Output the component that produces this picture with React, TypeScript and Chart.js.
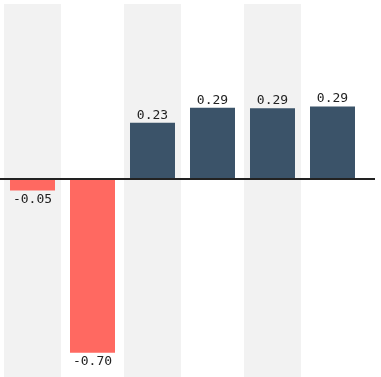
import React, { useEffect, useRef } from "react";
import { Chart, registerables } from "chart.js";

Chart.register(...registerables);

const categories = ["A", "B", "C", "D", "E", "F"];
const values = [-0.046, -0.7, 0.227, 0.288, 0.286, 0.293];
const valueLabels = ["-0.05", "-0.70", "0.23", "0.29", "0.29", "0.29"];

const POS = "#3b5369";
const NEG = "#ff6961";

export default function App() {
  const ref = useRef<HTMLCanvasElement | null>(null);
  useEffect(() => {
    document.body.style.margin = "0";
    const bandsPlugin = {
      id: "bands",
      beforeDatasetsDraw(chart: any) {
        const { ctx, chartArea, scales } = chart;
        const x = scales.x;
        ctx.save();
        ctx.fillStyle = "#f2f2f2";
        categories.forEach((_, i) => {
          if (i % 2 === 0) {
            const cx = x.getPixelForValue(i);
            const w = 57;
            ctx.fillRect(cx - w / 2, chartArea.top, w, chartArea.bottom - chartArea.top + 10);
          }
        });
        ctx.restore();
      },
      afterDatasetsDraw(chart: any) {
        const { ctx, chartArea, scales } = chart;
        const y0 = scales.y.getPixelForValue(0);
        ctx.save();
        ctx.strokeStyle = "#222";
        ctx.lineWidth = 2;
        ctx.beginPath();
        ctx.moveTo(0, y0);
        ctx.lineTo(chartArea.right + 12.5, y0);
        ctx.stroke();
        const meta = chart.getDatasetMeta(0);
        ctx.fillStyle = "#222";
        ctx.font = "13px 'DejaVu Sans Mono', monospace";
        ctx.textAlign = "center";
        ctx.textBaseline = "alphabetic";
        meta.data.forEach((bar: any, i: number) => {
          const v = values[i];
          const yy = v >= 0 ? bar.y - 4 : bar.y + 12.5;
          ctx.fillText(valueLabels[i], bar.x, yy);
        });
        ctx.restore();
      },
    };
    const chart = new Chart(ref.current!, {
      type: "bar",
      data: {
        labels: categories,
        datasets: [
          {
            data: values,
            backgroundColor: values.map((v) => (v >= 0 ? POS : NEG)),
            borderWidth: 0,
            categoryPercentage: 1,
            barPercentage: 0.75,
          },
        ],
      },
      options: {
        animation: false,
        responsive: false,
        maintainAspectRatio: false,
        layout: { padding: { left: 2.5, right: 18.5, top: 4, bottom: 0 } },
        plugins: { legend: { display: false }, tooltip: { enabled: false } },
        scales: {
          x: { display: false, offset: true, grid: { display: false } },
          y: { display: false, min: -0.798, max: 0.706 },
        },
      },
      plugins: [bandsPlugin],
    });
    return () => chart.destroy();
  }, []);
  return (
    <div style={{ position: "absolute", left: 0, top: 0, width: 381, height: 377 }}>
      <canvas ref={ref} width={381} height={377} style={{ display: "block" }} />
    </div>
  );
}
